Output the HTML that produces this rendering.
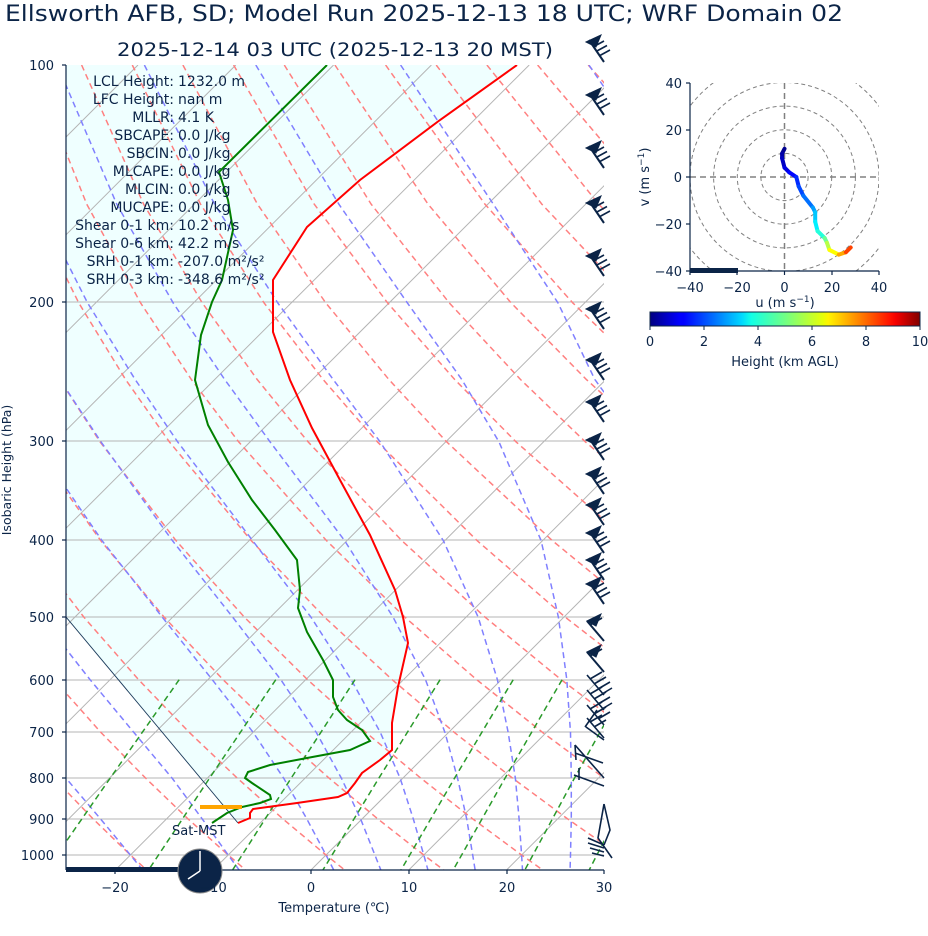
<!DOCTYPE html>
<html><head><meta charset="utf-8"><style>
html,body{margin:0;padding:0;background:#fff;}
svg{display:block;font-family:"DejaVu Sans","Liberation Sans",sans-serif;}
</style></head><body>
<svg width="928" height="936" viewBox="0 0 928 936" xmlns="http://www.w3.org/2000/svg" xmlns:xlink="http://www.w3.org/1999/xlink">
<defs>
<clipPath id="pc"><rect x="66" y="65" width="538" height="805"/></clipPath>
<clipPath id="hc"><rect x="690" y="83" width="189" height="188"/></clipPath>
<linearGradient id="jet" x1="0" x2="1" y1="0" y2="0">
<stop offset="0" stop-color="#000080"/><stop offset="0.11" stop-color="#0000ff"/><stop offset="0.125" stop-color="#0000ff"/>
<stop offset="0.34" stop-color="#00d8ff"/><stop offset="0.375" stop-color="#12ffe6"/><stop offset="0.5" stop-color="#70ff85"/>
<stop offset="0.64" stop-color="#e6ff08"/><stop offset="0.66" stop-color="#fff500"/><stop offset="0.89" stop-color="#ff1000"/>
<stop offset="0.91" stop-color="#f50000"/><stop offset="1" stop-color="#800000"/>
</linearGradient>
<g id="fb">
<polygon points="586,0 601,-7 596,5" stroke-width="1"/>
<line x1="589" y1="-2" x2="604" y2="20"/>
<line x1="593" y1="5" x2="604" y2="-1" stroke-width="1.6"/>
<line x1="596" y1="9.5" x2="607" y2="3.5" stroke-width="1.6"/>
<line x1="599" y1="14" x2="610" y2="8" stroke-width="1.6"/>
</g>
</defs>
<g clip-path="url(#pc)">
<path d="M66,617 L238,823 L250,818 L250,813 L253,809 L297,803 L338,797 L347,793 L355,783 L362,773 L380,760 L392,750 L392,723 L398,687 L408,643 L403,617 L395,590 L370,535 L340,480 L312,428 L290,380 L273,332 L273,280 L307,227 L360,180 L440,120 L517,65 L66,65 Z" fill="#efffff"/>
<g stroke="#b4b4b4" stroke-width="1">
<line x1="-667" y1="870" x2="138" y2="65"/><line x1="-569.2" y1="870" x2="235.8" y2="65"/><line x1="-471.4" y1="870" x2="333.6" y2="65"/>
<line x1="-373.6" y1="870" x2="431.4" y2="65"/><line x1="-275.8" y1="870" x2="529.2" y2="65"/><line x1="-178" y1="870" x2="627" y2="65"/>
<line x1="-80.2" y1="870" x2="724.8" y2="65"/><line x1="17.6" y1="870" x2="822.6" y2="65"/><line x1="115.4" y1="870" x2="920.4" y2="65"/>
<line x1="213.2" y1="870" x2="1018.2" y2="65"/><line x1="311" y1="870" x2="1116" y2="65"/><line x1="408.8" y1="870" x2="1213.8" y2="65"/>
<line x1="506.6" y1="870" x2="1311.6" y2="65"/><line x1="604.4" y1="870" x2="1409.4" y2="65"/>
<line x1="66" y1="302" x2="604" y2="302"/><line x1="66" y1="441" x2="604" y2="441"/><line x1="66" y1="540" x2="604" y2="540"/>
<line x1="66" y1="617" x2="604" y2="617"/><line x1="66" y1="680" x2="604" y2="680"/><line x1="66" y1="732" x2="604" y2="732"/>
<line x1="66" y1="778" x2="604" y2="778"/><line x1="66" y1="819" x2="604" y2="819"/><line x1="66" y1="855" x2="604" y2="855"/>
</g>
<g fill="none" stroke="#ff8080" stroke-width="1.5" stroke-dasharray="6,4">
<path d="M-30.5,679.7 L12.8,732.6 L54.1,778.4 L93.1,818.9 L130.4,855 L148.4,871.7"/>
<path d="M3.7,617.2 L54,679.7 L101.1,732.6 L145.9,778.4 L188,818.9 L228.2,855 L247.6,871.7"/>
<path d="M-38.6,441.9 L25.4,540.6 L83.9,617.2 L138.6,679.7 L189.5,732.6 L237.6,778.4 L282.9,818.9 L326,855 L346.8,871.7"/>
<path d="M-6.2,379.4 L30.7,441.9 L100.7,540.6 L164.2,617.2 L223.1,679.7 L277.8,732.6 L329.4,778.4 L377.8,818.9 L423.8,855 L446,871.7"/>
<path d="M-27.1,204.1 L17,302.8 L59.6,379.4 L100.1,441.9 L176,540.6 L244.4,617.2 L307.6,679.7 L366.1,732.6 L421.1,778.4 L472.7,818.9 L521.6,855 L545.1,871.7"/>
<path d="M-19.7,65 L29.8,204.1 L78.7,302.8 L125.5,379.4 L169.4,441.9 L251.2,540.6 L324.6,617.2 L392.2,679.7 L454.5,732.6 L512.9,778.4 L567.6,818.9 L619.4,855"/>
<path d="M31,65 L86.7,204.1 L140.5,302.8 L191.3,379.4 L238.7,441.9 L326.5,540.6 L404.9,617.2 L476.7,679.7 L542.8,732.6 L604.6,778.4 L662.5,818.9"/>
<path d="M81.6,65 L143.6,204.1 L202.2,302.8 L257.1,379.4 L308.1,441.9 L401.8,540.6 L485.1,617.2 L561.2,679.7 L631.1,732.6"/>
<path d="M132.3,65 L200.5,204.1 L264,302.8 L323,379.4 L377.4,441.9 L477.1,540.6 L565.3,617.2 L645.7,679.7"/>
<path d="M182.9,65 L257.4,204.1 L325.7,302.8 L388.8,379.4 L446.7,441.9 L552.3,540.6 L645.6,617.2"/>
<path d="M233.6,65 L314.2,204.1 L387.5,302.8 L454.6,379.4 L516.1,441.9 L627.6,540.6"/>
<path d="M284.3,65 L371.1,204.1 L449.2,302.8 L520.4,379.4 L585.4,441.9 L702.9,540.6"/>
<path d="M334.9,65 L428,204.1 L511,302.8 L586.3,379.4 L654.7,441.9"/>
<path d="M385.6,65 L484.9,204.1 L572.7,302.8 L652.1,379.4"/>
<path d="M436.2,65 L541.8,204.1 L634.5,302.8"/>
<path d="M486.9,65 L598.6,204.1 L696.2,302.8"/>
<path d="M537.6,65 L655.5,204.1"/>
<path d="M588.2,65 L712.4,204.1"/>
</g>
<g fill="none" stroke="#8080ff" stroke-width="1.5" stroke-dasharray="6,4">
<path d="M588.9,65 L684,204.1"/>
<path d="M400.6,65 L493.3,204.1 L557.9,302.8 L594.8,379.4 L640,441.9"/>
<path d="M255.8,65 L338.8,204.1 L407.3,302.8 L461.7,379.4 L499,441.9 L541.1,540.6 L558.4,617.2 L566.8,679.7 L570.5,732.6 L571.3,778.4 L571.3,818.9 L570.5,855 L570,871.7"/>
<path d="M144.4,65 L214.5,204.1 L277.7,302.8 L333.1,379.4 L380.2,441.9 L443.3,540.6 L478.2,617.2 L497.4,679.7 L508.2,732.6 L515.4,778.4 L519.1,818.9 L521.6,855 L522.6,871.7"/>
<path d="M57.3,65 L116.7,204.1 L173.1,302.8 L224.6,379.4 L270.1,441.9 L344.6,540.6 L393.1,617.2 L425.5,679.7 L445,732.6 L457.6,778.4 L466.7,818.9 L472.7,855 L475.4,871.7"/>
<path d="M-12,65 L37.5,204.1 L87.5,302.8 L135.1,379.4 L177.7,441.9 L252.6,540.6 L311,617.2 L351.2,679.7 L380.4,732.6 L400.2,778.4 L413.3,818.9 L423.8,855 L428.4,871.7"/>
<path d="M-26.5,204.1 L17.1,302.8 L59.8,379.4 L101,441.9 L172.4,540.6 L232.7,617.2 L280.8,679.7 L316.4,732.6 L341.5,778.4 L360.6,818.9 L374.9,855 L381.5,871.7"/>
<path d="M-2.8,379.4 L34.5,441.9 L102,540.6 L162.3,617.2 L212.3,679.7 L253.3,732.6 L283.8,778.4 L306.8,818.9 L326,855 L334.6,871.7"/>
<path d="M-13.4,540.6 L41.1,617.2 L90.1,679.7 L134,732.6 L172.3,778.4 L202.2,818.9 L228.2,855 L240.4,871.7"/>
<path d="M-12.6,679.7 L28.8,732.6 L66.2,778.4 L100.5,818.9 L130.4,855 L144,871.7"/>
</g>
<g fill="none" stroke="#2a9a2a" stroke-width="1.5" stroke-dasharray="6,4">
<path d="M179.2,679.7 L110,778.4 L45.2,871.7"/>
<path d="M275.8,679.7 L209.4,778.4 L147.4,871.7"/>
<path d="M355,679.7 L291,778.4 L231.5,871.7"/>
<path d="M440.1,679.7 L378.7,778.4 L321.9,871.7"/>
<path d="M513.2,679.7 L454.4,778.4 L400,871.7"/>
<path d="M562.1,679.7 L504.9,778.4 L452.2,871.7"/>
<path d="M629.2,679.7 L574.3,778.4 L523.9,871.7"/>
<path d="M636.7,778.4 L615.5,818.9 L588.3,871.7"/>
</g>
<path d="M66,617 L238,823" stroke="#1a3a5a" stroke-width="0.9" fill="none"/>
<path d="M238,823 L250,818 L250,813 L253,809 L297,803 L338,797 L347,793 L355,783 L362,773 L380,760 L392,750 L392,723 L398,687 L408,643 L403,617 L395,590 L370,535 L340,480 L312,428 L290,380 L273,332 L273,280 L307,227 L360,180 L440,120 L517,65" stroke="#ff0000" stroke-width="2" fill="none"/>
<path d="M212,823 L227,813 L242,807 L260,803 L271,799 L270,795 L252,783 L245,778 L248,772 L270,765 L307,758 L350,750 L370,741 L362,730 L347,720 L338,710 L333,697 L333,680 L323,660 L307,632 L298,608 L300,590 L297,560 L275,530 L252,500 L228,462 L208,425 L195,380 L201,335 L212,302 L222,280 L233,230 L228,200 L219,172 L327,65" stroke="#008000" stroke-width="2" fill="none"/>
<line x1="200" y1="807" x2="242" y2="807" stroke="#ffa500" stroke-width="4"/>
</g>
<g stroke="#0b2447" fill="#0b2447" stroke-width="2">
<use xlink:href="#fb" href="#fb" y="42"/><use xlink:href="#fb" href="#fb" y="95"/><use xlink:href="#fb" href="#fb" y="148"/>
<use xlink:href="#fb" href="#fb" y="203"/><use xlink:href="#fb" href="#fb" y="256"/><use xlink:href="#fb" href="#fb" y="309"/>
<use xlink:href="#fb" href="#fb" y="360"/><use xlink:href="#fb" href="#fb" y="402"/><use xlink:href="#fb" href="#fb" y="440"/>
<use xlink:href="#fb" href="#fb" y="474"/><use xlink:href="#fb" href="#fb" y="505"/><use xlink:href="#fb" href="#fb" y="533"/>
<use xlink:href="#fb" href="#fb" y="560"/><use xlink:href="#fb" href="#fb" y="584"/>
<polygon points="587,621 601,614 596,626" stroke-width="1"/><line x1="587" y1="621" x2="604" y2="641"/><line x1="590" y1="625" x2="602" y2="618" stroke-width="1.6"/>
<polygon points="587,652 601,645 596,657" stroke-width="1"/><line x1="587" y1="652" x2="604" y2="672"/><line x1="590" y1="656" x2="602" y2="649" stroke-width="1.6"/>
<g fill="none" stroke-width="1.6">
<path d="M587,675 L604,695 M590,679 L602,672 M594,684 L606,677 M598,689 L610,682 M602,694 L612,688"/>
<path d="M587,690 L604,710 M590,694 L602,687 M594,699 L606,692 M598,704 L610,697 M602,709 L612,703"/>
<path d="M587,705 L604,725 M590,709 L602,702 M594,714 L606,707 M598,719 L610,712"/>
<path d="M587,718 L604,738 M590,722 L602,715 M594,727 L606,720"/>
<path d="M586,727 L604,740 M585,727 L597,710"/>
<path d="M575,745 L604,778 M575,745 L576,760 M575,753 L603,763"/>
<path d="M574,775 L604,786 M579,768 L579,780"/>
<path d="M604,804 L610,830 L604,845 M604,804 L598,838 L612,858 M588,838 L604,845 M588,843 L604,848 M590,848 L604,852 M592,853 L604,856"/>
</g>
</g>
<g stroke="#0b2447" stroke-width="1.2">
<line x1="66" y1="65" x2="66" y2="870"/><line x1="66" y1="870" x2="604" y2="870"/>
<line x1="62" y1="65" x2="66" y2="65"/><line x1="62" y1="302" x2="66" y2="302"/><line x1="62" y1="441" x2="66" y2="441"/>
<line x1="62" y1="540" x2="66" y2="540"/><line x1="62" y1="617" x2="66" y2="617"/><line x1="62" y1="680" x2="66" y2="680"/>
<line x1="62" y1="732" x2="66" y2="732"/><line x1="62" y1="778" x2="66" y2="778"/><line x1="62" y1="819" x2="66" y2="819"/><line x1="62" y1="855" x2="66" y2="855"/>
<line x1="115" y1="870" x2="115" y2="874"/><line x1="213" y1="870" x2="213" y2="874"/><line x1="311" y1="870" x2="311" y2="874"/>
<line x1="409" y1="870" x2="409" y2="874"/><line x1="507" y1="870" x2="507" y2="874"/><line x1="604" y1="870" x2="604" y2="874"/>
</g>
<rect x="66" y="867" width="114" height="5" fill="#0b2447"/>
<circle cx="200" cy="871" r="22" fill="#0b2447" stroke="#888" stroke-width="1"/>
<path d="M200,871 L200,851 M200,871 L188,879" stroke="#fff" stroke-width="1.5" fill="none"/>
<g fill="#0b2447" font-size="13">
<text x="172" y="835">Sat-MST</text>
<g text-anchor="end">
<text x="54" y="70">100</text><text x="54" y="307">200</text><text x="54" y="446">300</text><text x="54" y="545">400</text>
<text x="54" y="622">500</text><text x="54" y="685">600</text><text x="54" y="737">700</text><text x="54" y="783">800</text>
<text x="54" y="824">900</text><text x="54" y="860">1000</text>
</g>
<g text-anchor="middle">
<text x="115" y="892">−20</text><text x="213" y="892">−10</text><text x="311" y="892">0</text>
<text x="409" y="892">10</text><text x="507" y="892">20</text><text x="604" y="892">30</text>
<text x="334" y="912">Temperature (℃)</text>
</g>
<text transform="translate(11,470) rotate(-90)" text-anchor="middle" font-size="12.5">Isobaric Height (hPa)</text>
<g font-size="14">
<g text-anchor="end">
<text x="174" y="86">LCL Height:</text><text x="174" y="104">LFC Height:</text><text x="174" y="122">MLLR:</text>
<text x="174" y="140">SBCAPE:</text><text x="174" y="158">SBCIN:</text><text x="174" y="176">MLCAPE:</text>
<text x="174" y="194">MLCIN:</text><text x="174" y="212">MUCAPE:</text><text x="174" y="230">Shear 0-1 km:</text>
<text x="174" y="248">Shear 0-6 km:</text><text x="174" y="266">SRH 0-1 km:</text><text x="174" y="284">SRH 0-3 km:</text>
</g>
<g>
<text x="178" y="86">1232.0 m</text><text x="178" y="104">nan m</text><text x="178" y="122">4.1 K</text>
<text x="178" y="140">0.0 J/kg</text><text x="178" y="158">0.0 J/kg</text><text x="178" y="176">0.0 J/kg</text>
<text x="178" y="194">0.0 J/kg</text><text x="178" y="212">0.0 J/kg</text><text x="178" y="230">10.2 m/s</text>
<text x="178" y="248">42.2 m/s</text><text x="178" y="266">-207.0 m²/s²</text><text x="178" y="284">-348.6 m²/s²</text>
</g>
</g>
</g>
<text x="5" y="21" font-size="22.5" fill="#0b2447" textLength="838" lengthAdjust="spacingAndGlyphs">Ellsworth AFB, SD; Model Run 2025-12-13 18 UTC; WRF Domain 02</text>
<text x="117" y="56" font-size="19" fill="#0b2447" textLength="436" lengthAdjust="spacingAndGlyphs">2025-12-14 03 UTC  (2025-12-13 20 MST)</text>
<g clip-path="url(#hc)" fill="none" stroke="#808080" stroke-width="1" stroke-dasharray="4,3">
<circle cx="784.5" cy="177" r="23.6"/><circle cx="784.5" cy="177" r="47.2"/><circle cx="784.5" cy="177" r="70.9"/>
<circle cx="784.5" cy="177" r="94.5"/><circle cx="784.5" cy="177" r="118.1"/><circle cx="784.5" cy="177" r="141.8"/>
</g>
<g stroke="#808080" stroke-width="1.5" stroke-dasharray="6,4">
<line x1="690" y1="177" x2="879" y2="177"/><line x1="784.5" y1="83" x2="784.5" y2="271"/>
</g>
<g fill="none" stroke-width="4" stroke-linecap="round">
<line x1="784.5" y1="148.8" x2="782.1" y2="153.5" stroke="#00008f"/>
<line x1="782.1" y1="153.5" x2="782.1" y2="158.2" stroke="#0000a8"/>
<line x1="782.1" y1="158.2" x2="784.5" y2="167.6" stroke="#0000c2"/>
<line x1="784.5" y1="167.6" x2="789.2" y2="172.3" stroke="#0000e0"/>
<line x1="789.2" y1="172.3" x2="796.3" y2="177" stroke="#0005ff"/>
<line x1="796.3" y1="177" x2="798.7" y2="186.4" stroke="#0029ff"/>
<line x1="798.7" y1="186.4" x2="803.4" y2="195.8" stroke="#0047ff"/>
<line x1="803.4" y1="195.8" x2="812.9" y2="207.6" stroke="#0070ff"/>
<line x1="812.9" y1="207.6" x2="815.2" y2="212.3" stroke="#009eff"/>
<line x1="815.2" y1="212.3" x2="815.2" y2="221.7" stroke="#00c7ff"/>
<line x1="815.2" y1="221.7" x2="817.6" y2="231.1" stroke="#00f0ff"/>
<line x1="817.6" y1="231.1" x2="824.7" y2="238.1" stroke="#24ffdb"/>
<line x1="824.7" y1="238.1" x2="827" y2="242.8" stroke="#6bff94"/>
<line x1="827" y1="242.8" x2="829.4" y2="249.9" stroke="#b8ff47"/>
<line x1="829.4" y1="249.9" x2="838.8" y2="254.6" stroke="#ffff00"/>
<line x1="838.8" y1="254.6" x2="845.9" y2="252.2" stroke="#ffa800"/>
<line x1="845.9" y1="252.2" x2="850.7" y2="247.5" stroke="#ff4200"/>
</g>
<g stroke="#0b2447" stroke-width="1.2">
<line x1="690" y1="83" x2="690" y2="271"/><line x1="690" y1="271" x2="879" y2="271"/>
<line x1="686" y1="83" x2="690" y2="83"/><line x1="686" y1="130" x2="690" y2="130"/><line x1="686" y1="177" x2="690" y2="177"/>
<line x1="686" y1="224" x2="690" y2="224"/><line x1="686" y1="271" x2="690" y2="271"/>
<line x1="690" y1="271" x2="690" y2="275"/><line x1="737" y1="271" x2="737" y2="275"/><line x1="784.5" y1="271" x2="784.5" y2="275"/>
<line x1="832" y1="271" x2="832" y2="275"/><line x1="879" y1="271" x2="879" y2="275"/>
</g>
<rect x="690" y="268" width="48" height="5" fill="#0b2447"/>
<g fill="#0b2447" font-size="13">
<g text-anchor="end"><text x="682" y="88">40</text><text x="682" y="135">20</text><text x="682" y="182">0</text><text x="682" y="229">−20</text><text x="682" y="276">−40</text></g>
<g text-anchor="middle"><text x="690" y="292">−40</text><text x="737" y="292">−20</text><text x="784.5" y="292">0</text><text x="832" y="292">20</text><text x="879" y="292">40</text>
<text x="785" y="307">u (m s<tspan font-size="9" dy="-5">−1</tspan><tspan dy="5">)</tspan></text>
<text x="785" y="366">Height (km AGL)</text>
<text x="650" y="346">0</text><text x="704" y="346">2</text><text x="758" y="346">4</text><text x="812" y="346">6</text><text x="866" y="346">8</text><text x="920" y="346">10</text>
</g>
<text transform="translate(649,177) rotate(-90)" text-anchor="middle">v (m s<tspan font-size="9" dy="-5">−1</tspan><tspan dy="5">)</tspan></text>
</g>
<rect x="650" y="312" width="270" height="14" fill="url(#jet)" stroke="#0b2447" stroke-width="1"/>
<g stroke="#0b2447" stroke-width="1"><line x1="650" y1="326" x2="650" y2="330"/><line x1="704" y1="326" x2="704" y2="330"/><line x1="758" y1="326" x2="758" y2="330"/><line x1="812" y1="326" x2="812" y2="330"/><line x1="866" y1="326" x2="866" y2="330"/><line x1="920" y1="326" x2="920" y2="330"/></g>
</svg>
</body></html>
